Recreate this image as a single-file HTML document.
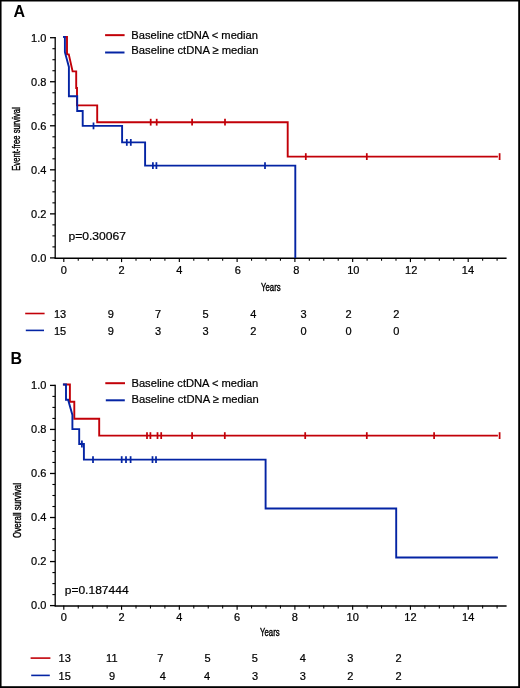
<!DOCTYPE html>
<html><head><meta charset="utf-8"><title>Kaplan-Meier</title>
<style>html,body{margin:0;padding:0;background:#fff;}svg{display:block;will-change:transform}</style>
</head><body>
<svg width="520" height="688" viewBox="0 0 520 688">
<style>text{font-family:"Liberation Sans",sans-serif;fill:#000;stroke:#000;stroke-width:0.22px}.tk{font-size:11px}.lg{font-size:11.7px}.rk{font-size:11px}.pv{font-size:11.5px}.cd{font-size:11px;stroke-width:0.4px}.pl{font-size:16px;font-weight:bold;stroke-width:0}</style>
<rect width="520" height="688" fill="#fff"/>
<rect x="0" y="0" width="520" height="1.5" fill="#000"/>
<rect x="0" y="0" width="1.55" height="688" fill="#000"/>
<rect x="518.2" y="0" width="1.8" height="688" fill="#000"/>
<rect x="0" y="686.2" width="520" height="1.8" fill="#000"/>
<text x="13.6" y="16.8" class="pl">A</text>
<line x1="55.2" y1="37.10" x2="55.2" y2="258.50" stroke="#000" stroke-width="1.3"/>
<line x1="54.6" y1="258.25" x2="506.6" y2="258.25" stroke="#000" stroke-width="1.4"/>
<line x1="50" y1="257.90" x2="55.2" y2="257.90" stroke="#000" stroke-width="1.3"/>
<text x="46.4" y="261.90" text-anchor="end" class="tk">0.0</text>
<line x1="52.4" y1="246.89" x2="55.2" y2="246.89" stroke="#000" stroke-width="1.1"/>
<line x1="52.4" y1="235.88" x2="55.2" y2="235.88" stroke="#000" stroke-width="1.1"/>
<line x1="52.4" y1="224.87" x2="55.2" y2="224.87" stroke="#000" stroke-width="1.1"/>
<line x1="50" y1="213.86" x2="55.2" y2="213.86" stroke="#000" stroke-width="1.3"/>
<text x="46.4" y="217.86" text-anchor="end" class="tk">0.2</text>
<line x1="52.4" y1="202.85" x2="55.2" y2="202.85" stroke="#000" stroke-width="1.1"/>
<line x1="52.4" y1="191.84" x2="55.2" y2="191.84" stroke="#000" stroke-width="1.1"/>
<line x1="52.4" y1="180.83" x2="55.2" y2="180.83" stroke="#000" stroke-width="1.1"/>
<line x1="50" y1="169.82" x2="55.2" y2="169.82" stroke="#000" stroke-width="1.3"/>
<text x="46.4" y="173.82" text-anchor="end" class="tk">0.4</text>
<line x1="52.4" y1="158.81" x2="55.2" y2="158.81" stroke="#000" stroke-width="1.1"/>
<line x1="52.4" y1="147.80" x2="55.2" y2="147.80" stroke="#000" stroke-width="1.1"/>
<line x1="52.4" y1="136.79" x2="55.2" y2="136.79" stroke="#000" stroke-width="1.1"/>
<line x1="50" y1="125.78" x2="55.2" y2="125.78" stroke="#000" stroke-width="1.3"/>
<text x="46.4" y="129.78" text-anchor="end" class="tk">0.6</text>
<line x1="52.4" y1="114.77" x2="55.2" y2="114.77" stroke="#000" stroke-width="1.1"/>
<line x1="52.4" y1="103.76" x2="55.2" y2="103.76" stroke="#000" stroke-width="1.1"/>
<line x1="52.4" y1="92.75" x2="55.2" y2="92.75" stroke="#000" stroke-width="1.1"/>
<line x1="50" y1="81.74" x2="55.2" y2="81.74" stroke="#000" stroke-width="1.3"/>
<text x="46.4" y="85.74" text-anchor="end" class="tk">0.8</text>
<line x1="52.4" y1="70.73" x2="55.2" y2="70.73" stroke="#000" stroke-width="1.1"/>
<line x1="52.4" y1="59.72" x2="55.2" y2="59.72" stroke="#000" stroke-width="1.1"/>
<line x1="52.4" y1="48.71" x2="55.2" y2="48.71" stroke="#000" stroke-width="1.1"/>
<line x1="50" y1="37.70" x2="55.2" y2="37.70" stroke="#000" stroke-width="1.3"/>
<text x="46.4" y="41.70" text-anchor="end" class="tk">1.0</text>
<line x1="63.80" y1="257.90" x2="63.80" y2="262.10" stroke="#000" stroke-width="1.15"/>
<text x="63.80" y="273.90" text-anchor="middle" class="tk">0</text>
<line x1="78.24" y1="257.90" x2="78.24" y2="260.70" stroke="#000" stroke-width="1.05"/>
<line x1="92.69" y1="257.90" x2="92.69" y2="260.70" stroke="#000" stroke-width="1.05"/>
<line x1="107.13" y1="257.90" x2="107.13" y2="260.70" stroke="#000" stroke-width="1.05"/>
<line x1="121.57" y1="257.90" x2="121.57" y2="262.10" stroke="#000" stroke-width="1.15"/>
<text x="121.67" y="273.90" text-anchor="middle" class="tk">2</text>
<line x1="136.01" y1="257.90" x2="136.01" y2="260.70" stroke="#000" stroke-width="1.05"/>
<line x1="150.46" y1="257.90" x2="150.46" y2="260.70" stroke="#000" stroke-width="1.05"/>
<line x1="164.90" y1="257.90" x2="164.90" y2="260.70" stroke="#000" stroke-width="1.05"/>
<line x1="179.34" y1="257.90" x2="179.34" y2="262.10" stroke="#000" stroke-width="1.15"/>
<text x="179.34" y="273.90" text-anchor="middle" class="tk">4</text>
<line x1="193.79" y1="257.90" x2="193.79" y2="260.70" stroke="#000" stroke-width="1.05"/>
<line x1="208.23" y1="257.90" x2="208.23" y2="260.70" stroke="#000" stroke-width="1.05"/>
<line x1="222.67" y1="257.90" x2="222.67" y2="260.70" stroke="#000" stroke-width="1.05"/>
<line x1="237.12" y1="257.90" x2="237.12" y2="262.10" stroke="#000" stroke-width="1.15"/>
<text x="237.82" y="273.90" text-anchor="middle" class="tk">6</text>
<line x1="251.56" y1="257.90" x2="251.56" y2="260.70" stroke="#000" stroke-width="1.05"/>
<line x1="266.00" y1="257.90" x2="266.00" y2="260.70" stroke="#000" stroke-width="1.05"/>
<line x1="280.44" y1="257.90" x2="280.44" y2="260.70" stroke="#000" stroke-width="1.05"/>
<line x1="294.89" y1="257.90" x2="294.89" y2="262.10" stroke="#000" stroke-width="1.15"/>
<text x="296.19" y="273.90" text-anchor="middle" class="tk">8</text>
<line x1="309.33" y1="257.90" x2="309.33" y2="260.70" stroke="#000" stroke-width="1.05"/>
<line x1="323.77" y1="257.90" x2="323.77" y2="260.70" stroke="#000" stroke-width="1.05"/>
<line x1="338.22" y1="257.90" x2="338.22" y2="260.70" stroke="#000" stroke-width="1.05"/>
<line x1="352.66" y1="257.90" x2="352.66" y2="262.10" stroke="#000" stroke-width="1.15"/>
<text x="353.36" y="273.90" text-anchor="middle" class="tk">10</text>
<line x1="367.10" y1="257.90" x2="367.10" y2="260.70" stroke="#000" stroke-width="1.05"/>
<line x1="381.55" y1="257.90" x2="381.55" y2="260.70" stroke="#000" stroke-width="1.05"/>
<line x1="395.99" y1="257.90" x2="395.99" y2="260.70" stroke="#000" stroke-width="1.05"/>
<line x1="410.43" y1="257.90" x2="410.43" y2="262.10" stroke="#000" stroke-width="1.15"/>
<text x="411.23" y="273.90" text-anchor="middle" class="tk">12</text>
<line x1="424.88" y1="257.90" x2="424.88" y2="260.70" stroke="#000" stroke-width="1.05"/>
<line x1="439.32" y1="257.90" x2="439.32" y2="260.70" stroke="#000" stroke-width="1.05"/>
<line x1="453.76" y1="257.90" x2="453.76" y2="260.70" stroke="#000" stroke-width="1.05"/>
<line x1="468.20" y1="257.90" x2="468.20" y2="262.10" stroke="#000" stroke-width="1.15"/>
<text x="467.90" y="273.90" text-anchor="middle" class="tk">14</text>
<line x1="482.65" y1="257.90" x2="482.65" y2="260.70" stroke="#000" stroke-width="1.05"/>
<line x1="497.09" y1="257.90" x2="497.09" y2="260.70" stroke="#000" stroke-width="1.05"/>
<line x1="105.1" y1="35.15" x2="124.6" y2="35.15" stroke="#c20008" stroke-width="2"/>
<line x1="105.1" y1="52.5" x2="124.5" y2="52.5" stroke="#0424a4" stroke-width="2"/>
<text x="131.3" y="38.6" class="lg" textLength="126.6" lengthAdjust="spacingAndGlyphs">Baseline ctDNA &lt; median</text>
<text x="131.3" y="54.4" class="lg" textLength="127.3" lengthAdjust="spacingAndGlyphs">Baseline ctDNA ≥ median</text>
<path d="M63.2 36.9H67V54.4H68.8L72.6 71.4H76.2V88H77V105.4H97.2V122.2H287.7V156.6H497.9" fill="none" stroke="#c20008" stroke-width="1.9" stroke-linejoin="miter" stroke-linecap="butt"/>
<line x1="150.7" y1="118.80" x2="150.7" y2="125.60" stroke="#c20008" stroke-width="1.75"/>
<line x1="156.7" y1="118.80" x2="156.7" y2="125.60" stroke="#c20008" stroke-width="1.75"/>
<line x1="192.1" y1="118.80" x2="192.1" y2="125.60" stroke="#c20008" stroke-width="1.75"/>
<line x1="225.0" y1="118.80" x2="225.0" y2="125.60" stroke="#c20008" stroke-width="1.75"/>
<line x1="305.8" y1="153.20" x2="305.8" y2="160.00" stroke="#c20008" stroke-width="1.75"/>
<line x1="366.8" y1="153.20" x2="366.8" y2="160.00" stroke="#c20008" stroke-width="1.75"/>
<line x1="499.6" y1="153.20" x2="499.6" y2="160.00" stroke="#c20008" stroke-width="1.75"/>
<path d="M63.0 36.9H64.9V52.2L68.9 67V96.3H77.2V111H82.7V125.9H122.1V142.4H145.1V165.6H295.3V258" fill="none" stroke="#0424a4" stroke-width="1.9" stroke-linejoin="miter" stroke-linecap="butt"/>
<line x1="93.5" y1="122.50" x2="93.5" y2="129.30" stroke="#0424a4" stroke-width="1.75"/>
<line x1="126.8" y1="139.00" x2="126.8" y2="145.80" stroke="#0424a4" stroke-width="1.75"/>
<line x1="130.8" y1="139.00" x2="130.8" y2="145.80" stroke="#0424a4" stroke-width="1.75"/>
<line x1="152.9" y1="162.20" x2="152.9" y2="169.00" stroke="#0424a4" stroke-width="1.75"/>
<line x1="156.4" y1="162.20" x2="156.4" y2="169.00" stroke="#0424a4" stroke-width="1.75"/>
<line x1="265.0" y1="162.20" x2="265.0" y2="169.00" stroke="#0424a4" stroke-width="1.75"/>
<text x="68.4" y="239.9" class="pv" textLength="57.6" lengthAdjust="spacingAndGlyphs">p=0.30067</text>
<text transform="translate(270.8 291.0) scale(0.71 1)" text-anchor="middle" class="cd">Years</text>
<text transform="translate(20.3 139) rotate(-90) scale(0.70 1)" text-anchor="middle" class="cd">Event-free survival</text>
<line x1="25.2" y1="313.5" x2="44.6" y2="313.5" stroke="#c20008" stroke-width="1.6"/>
<line x1="25.8" y1="330.4" x2="44.0" y2="330.4" stroke="#0424a4" stroke-width="1.6"/>
<text x="60" y="317.6" text-anchor="middle" class="rk">13</text>
<text x="60" y="335.2" text-anchor="middle" class="rk">15</text>
<text x="110.8" y="317.6" text-anchor="middle" class="rk">9</text>
<text x="110.8" y="335.2" text-anchor="middle" class="rk">9</text>
<text x="158" y="317.6" text-anchor="middle" class="rk">7</text>
<text x="158" y="335.2" text-anchor="middle" class="rk">3</text>
<text x="205.6" y="317.6" text-anchor="middle" class="rk">5</text>
<text x="205.6" y="335.2" text-anchor="middle" class="rk">3</text>
<text x="253.4" y="317.6" text-anchor="middle" class="rk">4</text>
<text x="253.4" y="335.2" text-anchor="middle" class="rk">2</text>
<text x="303.6" y="317.6" text-anchor="middle" class="rk">3</text>
<text x="303.6" y="335.2" text-anchor="middle" class="rk">0</text>
<text x="348.6" y="317.6" text-anchor="middle" class="rk">2</text>
<text x="348.6" y="335.2" text-anchor="middle" class="rk">0</text>
<text x="396.4" y="317.6" text-anchor="middle" class="rk">2</text>
<text x="396.4" y="335.2" text-anchor="middle" class="rk">0</text>
<text x="10.6" y="364.3" class="pl">B</text>
<line x1="55.2" y1="384.80" x2="55.2" y2="606.20" stroke="#000" stroke-width="1.3"/>
<line x1="54.6" y1="605.95" x2="506.6" y2="605.95" stroke="#000" stroke-width="1.4"/>
<line x1="50" y1="605.60" x2="55.2" y2="605.60" stroke="#000" stroke-width="1.3"/>
<text x="46.4" y="608.90" text-anchor="end" class="tk">0.0</text>
<line x1="52.4" y1="594.59" x2="55.2" y2="594.59" stroke="#000" stroke-width="1.1"/>
<line x1="52.4" y1="583.58" x2="55.2" y2="583.58" stroke="#000" stroke-width="1.1"/>
<line x1="52.4" y1="572.57" x2="55.2" y2="572.57" stroke="#000" stroke-width="1.1"/>
<line x1="50" y1="561.56" x2="55.2" y2="561.56" stroke="#000" stroke-width="1.3"/>
<text x="46.4" y="564.86" text-anchor="end" class="tk">0.2</text>
<line x1="52.4" y1="550.55" x2="55.2" y2="550.55" stroke="#000" stroke-width="1.1"/>
<line x1="52.4" y1="539.54" x2="55.2" y2="539.54" stroke="#000" stroke-width="1.1"/>
<line x1="52.4" y1="528.53" x2="55.2" y2="528.53" stroke="#000" stroke-width="1.1"/>
<line x1="50" y1="517.52" x2="55.2" y2="517.52" stroke="#000" stroke-width="1.3"/>
<text x="46.4" y="520.82" text-anchor="end" class="tk">0.4</text>
<line x1="52.4" y1="506.51" x2="55.2" y2="506.51" stroke="#000" stroke-width="1.1"/>
<line x1="52.4" y1="495.50" x2="55.2" y2="495.50" stroke="#000" stroke-width="1.1"/>
<line x1="52.4" y1="484.49" x2="55.2" y2="484.49" stroke="#000" stroke-width="1.1"/>
<line x1="50" y1="473.48" x2="55.2" y2="473.48" stroke="#000" stroke-width="1.3"/>
<text x="46.4" y="476.78" text-anchor="end" class="tk">0.6</text>
<line x1="52.4" y1="462.47" x2="55.2" y2="462.47" stroke="#000" stroke-width="1.1"/>
<line x1="52.4" y1="451.46" x2="55.2" y2="451.46" stroke="#000" stroke-width="1.1"/>
<line x1="52.4" y1="440.45" x2="55.2" y2="440.45" stroke="#000" stroke-width="1.1"/>
<line x1="50" y1="429.44" x2="55.2" y2="429.44" stroke="#000" stroke-width="1.3"/>
<text x="46.4" y="432.74" text-anchor="end" class="tk">0.8</text>
<line x1="52.4" y1="418.43" x2="55.2" y2="418.43" stroke="#000" stroke-width="1.1"/>
<line x1="52.4" y1="407.42" x2="55.2" y2="407.42" stroke="#000" stroke-width="1.1"/>
<line x1="52.4" y1="396.41" x2="55.2" y2="396.41" stroke="#000" stroke-width="1.1"/>
<line x1="50" y1="385.40" x2="55.2" y2="385.40" stroke="#000" stroke-width="1.3"/>
<text x="46.4" y="388.70" text-anchor="end" class="tk">1.0</text>
<line x1="63.80" y1="605.60" x2="63.80" y2="609.80" stroke="#000" stroke-width="1.15"/>
<text x="63.80" y="620.60" text-anchor="middle" class="tk">0</text>
<line x1="78.24" y1="605.60" x2="78.24" y2="608.40" stroke="#000" stroke-width="1.05"/>
<line x1="92.69" y1="605.60" x2="92.69" y2="608.40" stroke="#000" stroke-width="1.05"/>
<line x1="107.13" y1="605.60" x2="107.13" y2="608.40" stroke="#000" stroke-width="1.05"/>
<line x1="121.57" y1="605.60" x2="121.57" y2="609.80" stroke="#000" stroke-width="1.15"/>
<text x="121.57" y="620.60" text-anchor="middle" class="tk">2</text>
<line x1="136.01" y1="605.60" x2="136.01" y2="608.40" stroke="#000" stroke-width="1.05"/>
<line x1="150.46" y1="605.60" x2="150.46" y2="608.40" stroke="#000" stroke-width="1.05"/>
<line x1="164.90" y1="605.60" x2="164.90" y2="608.40" stroke="#000" stroke-width="1.05"/>
<line x1="179.34" y1="605.60" x2="179.34" y2="609.80" stroke="#000" stroke-width="1.15"/>
<text x="179.34" y="620.60" text-anchor="middle" class="tk">4</text>
<line x1="193.79" y1="605.60" x2="193.79" y2="608.40" stroke="#000" stroke-width="1.05"/>
<line x1="208.23" y1="605.60" x2="208.23" y2="608.40" stroke="#000" stroke-width="1.05"/>
<line x1="222.67" y1="605.60" x2="222.67" y2="608.40" stroke="#000" stroke-width="1.05"/>
<line x1="237.12" y1="605.60" x2="237.12" y2="609.80" stroke="#000" stroke-width="1.15"/>
<text x="237.12" y="620.60" text-anchor="middle" class="tk">6</text>
<line x1="251.56" y1="605.60" x2="251.56" y2="608.40" stroke="#000" stroke-width="1.05"/>
<line x1="266.00" y1="605.60" x2="266.00" y2="608.40" stroke="#000" stroke-width="1.05"/>
<line x1="280.44" y1="605.60" x2="280.44" y2="608.40" stroke="#000" stroke-width="1.05"/>
<line x1="294.89" y1="605.60" x2="294.89" y2="609.80" stroke="#000" stroke-width="1.15"/>
<text x="294.89" y="620.60" text-anchor="middle" class="tk">8</text>
<line x1="309.33" y1="605.60" x2="309.33" y2="608.40" stroke="#000" stroke-width="1.05"/>
<line x1="323.77" y1="605.60" x2="323.77" y2="608.40" stroke="#000" stroke-width="1.05"/>
<line x1="338.22" y1="605.60" x2="338.22" y2="608.40" stroke="#000" stroke-width="1.05"/>
<line x1="352.66" y1="605.60" x2="352.66" y2="609.80" stroke="#000" stroke-width="1.15"/>
<text x="352.66" y="620.60" text-anchor="middle" class="tk">10</text>
<line x1="367.10" y1="605.60" x2="367.10" y2="608.40" stroke="#000" stroke-width="1.05"/>
<line x1="381.55" y1="605.60" x2="381.55" y2="608.40" stroke="#000" stroke-width="1.05"/>
<line x1="395.99" y1="605.60" x2="395.99" y2="608.40" stroke="#000" stroke-width="1.05"/>
<line x1="410.43" y1="605.60" x2="410.43" y2="609.80" stroke="#000" stroke-width="1.15"/>
<text x="410.43" y="620.60" text-anchor="middle" class="tk">12</text>
<line x1="424.88" y1="605.60" x2="424.88" y2="608.40" stroke="#000" stroke-width="1.05"/>
<line x1="439.32" y1="605.60" x2="439.32" y2="608.40" stroke="#000" stroke-width="1.05"/>
<line x1="453.76" y1="605.60" x2="453.76" y2="608.40" stroke="#000" stroke-width="1.05"/>
<line x1="468.20" y1="605.60" x2="468.20" y2="609.80" stroke="#000" stroke-width="1.15"/>
<text x="468.20" y="620.60" text-anchor="middle" class="tk">14</text>
<line x1="482.65" y1="605.60" x2="482.65" y2="608.40" stroke="#000" stroke-width="1.05"/>
<line x1="497.09" y1="605.60" x2="497.09" y2="608.40" stroke="#000" stroke-width="1.05"/>
<line x1="105.3" y1="383.2" x2="125" y2="383.2" stroke="#c20008" stroke-width="2"/>
<line x1="105.8" y1="400.3" x2="124.8" y2="400.3" stroke="#0424a4" stroke-width="2"/>
<text x="131.5" y="386.7" class="lg" textLength="126.6" lengthAdjust="spacingAndGlyphs">Baseline ctDNA &lt; median</text>
<text x="131.5" y="402.5" class="lg" textLength="127.3" lengthAdjust="spacingAndGlyphs">Baseline ctDNA ≥ median</text>
<path d="M63.2 384.5H69.9V401.8H74.3V418.7H99.2V435.6H497.9" fill="none" stroke="#c20008" stroke-width="1.9" stroke-linejoin="miter" stroke-linecap="butt"/>
<line x1="147" y1="432.20" x2="147" y2="439.00" stroke="#c20008" stroke-width="1.75"/>
<line x1="150.4" y1="432.20" x2="150.4" y2="439.00" stroke="#c20008" stroke-width="1.75"/>
<line x1="157.5" y1="432.20" x2="157.5" y2="439.00" stroke="#c20008" stroke-width="1.75"/>
<line x1="161.2" y1="432.20" x2="161.2" y2="439.00" stroke="#c20008" stroke-width="1.75"/>
<line x1="192.1" y1="432.20" x2="192.1" y2="439.00" stroke="#c20008" stroke-width="1.75"/>
<line x1="224.8" y1="432.20" x2="224.8" y2="439.00" stroke="#c20008" stroke-width="1.75"/>
<line x1="305.2" y1="432.20" x2="305.2" y2="439.00" stroke="#c20008" stroke-width="1.75"/>
<line x1="366.8" y1="432.20" x2="366.8" y2="439.00" stroke="#c20008" stroke-width="1.75"/>
<line x1="434.1" y1="432.20" x2="434.1" y2="439.00" stroke="#c20008" stroke-width="1.75"/>
<line x1="499.6" y1="432.20" x2="499.6" y2="439.00" stroke="#c20008" stroke-width="1.75"/>
<path d="M62.9 384.5H66.0V399.7H68.1L72.4 414.9V429.1H79.2V444H83.9V459.6H265.6V508.5H396.2V557.5H497.9" fill="none" stroke="#0424a4" stroke-width="1.9" stroke-linejoin="miter" stroke-linecap="butt"/>
<line x1="81.9" y1="440.60" x2="81.9" y2="447.40" stroke="#0424a4" stroke-width="1.75"/>
<line x1="93" y1="456.20" x2="93" y2="463.00" stroke="#0424a4" stroke-width="1.75"/>
<line x1="121.7" y1="456.20" x2="121.7" y2="463.00" stroke="#0424a4" stroke-width="1.75"/>
<line x1="126" y1="456.20" x2="126" y2="463.00" stroke="#0424a4" stroke-width="1.75"/>
<line x1="130.6" y1="456.20" x2="130.6" y2="463.00" stroke="#0424a4" stroke-width="1.75"/>
<line x1="152.5" y1="456.20" x2="152.5" y2="463.00" stroke="#0424a4" stroke-width="1.75"/>
<line x1="156" y1="456.20" x2="156" y2="463.00" stroke="#0424a4" stroke-width="1.75"/>
<text x="64.7" y="593.8" class="pv" textLength="63.9" lengthAdjust="spacingAndGlyphs">p=0.187444</text>
<text transform="translate(269.8 636.3) scale(0.71 1)" text-anchor="middle" class="cd">Years</text>
<text transform="translate(20.6 510.5) rotate(-90) scale(0.73 1)" text-anchor="middle" class="cd">Overall survival</text>
<line x1="30.6" y1="658.1" x2="50.4" y2="658.1" stroke="#c20008" stroke-width="1.6"/>
<line x1="31.2" y1="675.4" x2="49.8" y2="675.4" stroke="#0424a4" stroke-width="1.6"/>
<text x="64.7" y="661.9" text-anchor="middle" class="rk">13</text>
<text x="64.7" y="679.5" text-anchor="middle" class="rk">15</text>
<text x="111.8" y="661.9" text-anchor="middle" class="rk">11</text>
<text x="112.0" y="679.5" text-anchor="middle" class="rk">9</text>
<text x="160.4" y="661.9" text-anchor="middle" class="rk">7</text>
<text x="162.7" y="679.5" text-anchor="middle" class="rk">4</text>
<text x="207.6" y="661.9" text-anchor="middle" class="rk">5</text>
<text x="207.1" y="679.5" text-anchor="middle" class="rk">4</text>
<text x="254.8" y="661.9" text-anchor="middle" class="rk">5</text>
<text x="255.1" y="679.5" text-anchor="middle" class="rk">3</text>
<text x="302.8" y="661.9" text-anchor="middle" class="rk">4</text>
<text x="302.8" y="679.5" text-anchor="middle" class="rk">3</text>
<text x="350.4" y="661.9" text-anchor="middle" class="rk">3</text>
<text x="350.4" y="679.5" text-anchor="middle" class="rk">2</text>
<text x="398.5" y="661.9" text-anchor="middle" class="rk">2</text>
<text x="398.5" y="679.5" text-anchor="middle" class="rk">2</text>
</svg>
</body></html>
